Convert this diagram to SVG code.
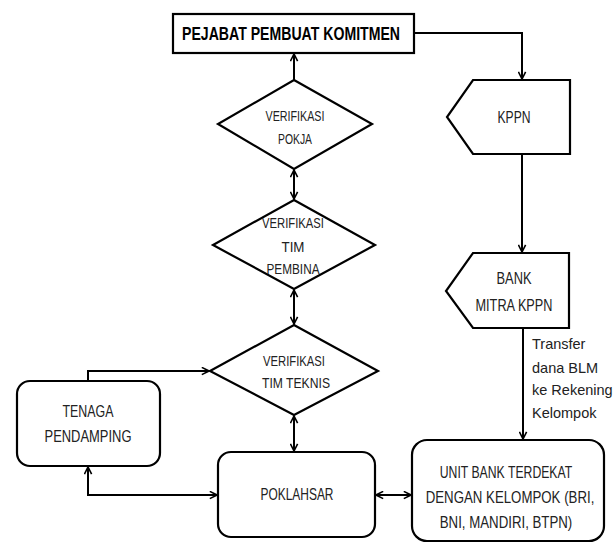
<svg xmlns="http://www.w3.org/2000/svg" width="616" height="545" viewBox="0 0 616 545">
<defs>
<marker id="ah" viewBox="0 0 10 10" refX="9" refY="5" markerWidth="9" markerHeight="9" markerUnits="userSpaceOnUse" orient="auto-start-reverse">
<path d="M1,1 L9,5 L1,9" fill="none" stroke="#000" stroke-width="1.8"/>
</marker>
<style>
.s{fill:#fff;stroke:#000;stroke-width:2.2}
.c{fill:none;stroke:#000;stroke-width:2}
.t{font-family:"Liberation Sans",Arial,sans-serif;font-size:17px;fill:#222;text-anchor:middle}
.d{font-family:"Liberation Sans",Arial,sans-serif;font-size:15px;fill:#222;text-anchor:middle}
.b{font-family:"Liberation Sans",Arial,sans-serif;font-size:18px;font-weight:bold;fill:#000;text-anchor:middle}
.l{font-family:"Liberation Sans",Arial,sans-serif;font-size:14.5px;fill:#222}
</style>
</defs>
<rect width="616" height="545" fill="#fff"/>
<g id="connectors">
<path class="c" d="M414,33 H522 V79" marker-end="url(#ah)"/>
<path class="c" d="M522,154 V252" marker-end="url(#ah)"/>
<path class="c" d="M523,328 V439" marker-end="url(#ah)"/>
<path class="c" d="M294,80 V54" marker-end="url(#ah)"/>
<path class="c" d="M294,170 V199" marker-start="url(#ah)" marker-end="url(#ah)"/>
<path class="c" d="M294,290 V324" marker-start="url(#ah)" marker-end="url(#ah)"/>
<path class="c" d="M294,416 V451" marker-start="url(#ah)" marker-end="url(#ah)"/>
<path class="c" d="M88,381 V371 H209" marker-end="url(#ah)"/>
<path class="c" d="M88,467 V495 H217" marker-start="url(#ah)" marker-end="url(#ah)"/>
<path class="c" d="M376,495 H411" marker-start="url(#ah)" marker-end="url(#ah)"/>
</g>
<g id="ppk">
<rect class="s" x="173" y="14" width="241" height="39"/>
<text class="b" x="291" y="40" textLength="218" lengthAdjust="spacingAndGlyphs">PEJABAT PEMBUAT KOMITMEN</text>
</g>
<g id="kppn">
<path class="s" d="M473,80 H570 V154 H473 L447,117 Z"/>
<text class="t" x="514" y="123" textLength="33" lengthAdjust="spacingAndGlyphs">KPPN</text>
</g>
<g id="bank-mitra">
<path class="s" d="M473,253 H569 V328 H473 L446,291 Z"/>
<text class="t" x="514" y="284" textLength="35" lengthAdjust="spacingAndGlyphs">BANK</text>
<text class="t" x="514" y="311" textLength="77" lengthAdjust="spacingAndGlyphs">MITRA KPPN</text>
</g>
<g id="verif-pokja">
<path class="s" d="M294,80 L372,124 L294,169 L218,124 Z"/>
<text class="d" x="295" y="121" textLength="59" lengthAdjust="spacingAndGlyphs">VERIFIKASI</text>
<text class="d" x="295" y="144" textLength="34" lengthAdjust="spacingAndGlyphs">POKJA</text>
</g>
<g id="verif-pembina">
<path class="s" d="M294,200 L375,245 L294,289 L213,245 Z"/>
<text class="d" x="293" y="228" textLength="62" lengthAdjust="spacingAndGlyphs">VERIFIKASI</text>
<text class="d" x="293" y="252" textLength="23" lengthAdjust="spacingAndGlyphs">TIM</text>
<text class="d" x="293" y="274" textLength="53" lengthAdjust="spacingAndGlyphs">PEMBINA</text>
</g>
<g id="verif-teknis">
<path class="s" d="M294,325 L378,371 L294,415 L210,371 Z"/>
<text class="d" x="294" y="366" textLength="62" lengthAdjust="spacingAndGlyphs">VERIFIKASI</text>
<text class="d" x="296" y="388" textLength="68" lengthAdjust="spacingAndGlyphs">TIM TEKNIS</text>
</g>
<g id="tenaga-pendamping">
<rect class="s" x="17" y="381" width="143" height="85" rx="13"/>
<text class="t" x="88" y="417" textLength="51" lengthAdjust="spacingAndGlyphs">TENAGA</text>
<text class="t" x="88" y="442" textLength="87" lengthAdjust="spacingAndGlyphs">PENDAMPING</text>
</g>
<g id="poklahsar">
<rect class="s" x="218" y="452" width="157" height="85" rx="13"/>
<text class="t" x="297" y="500" textLength="73" lengthAdjust="spacingAndGlyphs">POKLAHSAR</text>
</g>
<g id="unit-bank">
<rect class="s" x="412" y="440" width="192" height="101" rx="15"/>
<text class="t" transform="translate(506,478) scale(0.72,1)">UNIT BANK TERDEKAT</text>
<text class="t" transform="translate(510,503) scale(0.78,1)">DENGAN KELOMPOK (BRI,</text>
<text class="t" transform="translate(506,528) scale(0.78,1)">BNI, MANDIRI, BTPN)</text>
</g>
<g id="transfer-label">
<text class="l" x="532" y="349">Transfer</text>
<text class="l" x="532" y="373">dana BLM</text>
<text class="l" x="532" y="395">ke Rekening</text>
<text class="l" x="532" y="418">Kelompok</text>
</g>
</svg>
